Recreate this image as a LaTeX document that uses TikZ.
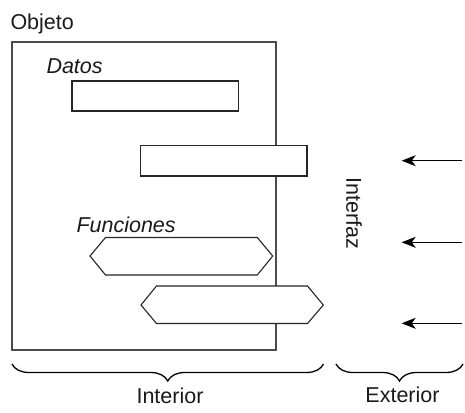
\documentclass[tikz,border=0pt]{standalone}
\usepackage{fontspec}
\setmainfont{Liberation Sans}
\usetikzlibrary{decorations.pathreplacing,arrows.meta}
\definecolor{txt}{HTML}{1A1A1A}
\tikzset{
  lbl/.style={inner sep=0pt, outer sep=0pt, text=txt, font=\fontsize{21.5}{25}\selectfont},
  ilbl/.style={lbl, font=\fontsize{21.5}{25}\selectfont\itshape},
  outerbox/.style={draw=black!70, line width=1.2pt, inner sep=0pt, outer sep=0pt},
  rectbox/.style={draw=black!85, fill=white, line width=1.2pt, inner sep=0pt, outer sep=0pt},
  hexbox/.style={draw=black!85, fill=white, line width=1.1pt, line join=miter},
  arr/.style={draw=black, line width=1pt, -{Stealth[length=14pt,width=11pt,inset=4pt]}},
  bracestyle/.style={draw=black, line width=1.3pt, decorate, decoration={brace, mirror, amplitude=17pt}}
}
\begin{document}
\begin{tikzpicture}[x=1pt,y=-1pt]
\useasboundingbox (0,0) rectangle (465,412);
% outer object box
\node[outerbox, minimum width=264pt, minimum height=308pt] (obj) at (144,196) {};
\node[lbl, anchor=base west] (objlbl) at (10.5,29.5) {Objeto};
% data
\node[ilbl, anchor=base west] (datlbl) at (46.5,73.5) {Datos};
\node[rectbox, minimum width=166.7pt, minimum height=30pt] (d1) at (155.3,96) {};
\node[rectbox, minimum width=166.3pt, minimum height=30.7pt] (d2) at (223.9,160.7) {};
% functions
\node[ilbl, anchor=base west] (funlbl) at (76.5,232) {Funciones};
\path[hexbox] (90,256) -- (105.5,237.5) -- (257.3,237.5) -- (272.7,256) -- (257.3,275) -- (105.5,275) -- cycle;
\path[hexbox] (141,305) -- (156.5,286) -- (307.5,286) -- (323.3,305) -- (307.5,323.5) -- (156.5,323.5) -- cycle;
% interface
\node[lbl, rotate=-90] (ifz) at (354,213) {Interfaz};
% arrows
\coordinate (a1s) at (462,160.7);
\coordinate (a1e) at (401.7,160.7);
\coordinate (a2s) at (462,242.3);
\coordinate (a2e) at (401.7,242.3);
\coordinate (a3s) at (462,323.3);
\coordinate (a3e) at (401.7,323.3);
\draw[arr] (a1s) -- (a1e);
\draw[arr] (a2s) -- (a2e);
\draw[arr] (a3s) -- (a3e);
% braces
\coordinate (b1l) at (12,364);
\coordinate (b1r) at (323.5,364);
\coordinate (b2l) at (336,364);
\coordinate (b2r) at (463,364);
\draw[bracestyle] (b1l) -- (b1r);
\draw[bracestyle] (b2l) -- (b2r);
\node[lbl, anchor=base] (intlbl) at (170,403) {Interior};
\node[lbl, anchor=base] (extlbl) at (402.5,402.7) {Exterior};
\end{tikzpicture}
\end{document}
